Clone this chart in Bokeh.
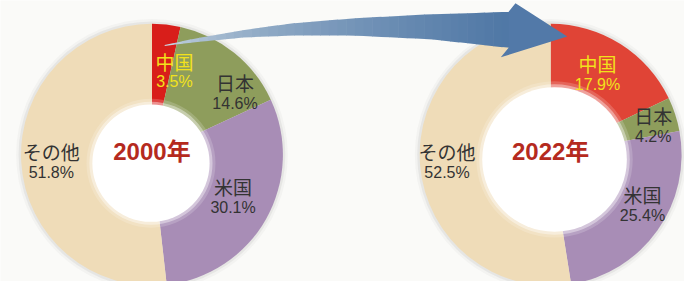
import math
from bokeh.plotting import figure
from bokeh.models import Range1d
from bokeh.core.properties import value
from bokeh.embed import file_html
from bokeh.resources import INLINE

# ---- data ----
categories = ["中国", "日本", "米国", "その他"]
share_2000 = [3.5, 14.6, 30.1, 51.8]
share_2022 = [17.9, 4.2, 25.4, 52.5]
years = ["2000年", "2022年"]

colors_2000 = ["#d81e1a", "#8e9d5c", "#a88db6", "#efdcb8"]
colors_2022 = ["#e04436", "#8e9d5c", "#a88db6", "#efdcb8"]
label_colors = ["#f2e21c", "#333333", "#333333", "#333333"]

H = 297  # reference height, used to flip decoration coords to y-up

p = figure(width=684, height=281, output_backend="svg", toolbar_location=None,
           x_range=Range1d(0, 700), y_range=Range1d(0, 297), min_border=0)
p.axis.visible = False
p.grid.visible = False
p.outline_line_color = None
p.background_fill_color = "#fafaf8"
p.border_fill_color = "#fafaf8"

FONT = value("Noto Sans CJK JP")
NUMFONT = value("Liberation Sans")


def donut(cx, cy, r_out, hole, shares, colors, year, label_pos):
    # soft shadow
    for k, a in [(5, 0.06), (2.5, 0.12)]:
        p.circle(x=[cx], y=[cy], radius=r_out + k, fill_color="#8a8a8a",
                 fill_alpha=a, line_color=None)
    cum = 0.0
    starts, ends = [], []
    for s in shares:
        c0, c1 = cum, cum + s
        cum = c1
        starts.append(math.pi / 2 - 2 * math.pi * c1 / 100.0)
        ends.append(math.pi / 2 - 2 * math.pi * c0 / 100.0)
    p.wedge(x=[cx] * len(shares), y=[cy] * len(shares), radius=r_out,
            start_angle=starts, end_angle=ends, direction="anticlock",
            fill_color=colors, line_color=None)
    hx, hy, hr = hole
    for k, a in [(6, 0.18), (3, 0.4)]:
        p.circle(x=[hx], y=[hy], radius=hr + k, fill_color="#ffffff",
                 fill_alpha=a, line_color=None)
    p.circle(x=[hx], y=[hy], radius=hr, fill_color="#ffffff", line_color=None)
    # labels
    for cat, s, col, (lx, ly) in zip(categories, shares, label_colors, label_pos):
        p.text(x=[lx], y=[ly], text=[cat], text_font=FONT, text_font_size="19px",
               text_color=col, text_align="center", text_baseline="middle")
        p.text(x=[lx], y=[ly - 22], text=[f"{s}%"], text_font=NUMFONT,
               text_font_size="16px", text_color=col, text_align="center",
               text_baseline="middle")
    p.text(x=[cx], y=[cy + 3], text=[year],
           text_font=value("Liberation Sans, Noto Sans CJK JP"),
           text_font_size="24px", text_font_style="bold", text_color="#b52a1e",
           text_align="center", text_baseline="middle")


# left donut (coordinates in y-up reference pixel space)
donut(155, H - 163, 134, (154, H - 172, 60), share_2000, colors_2000, years[0],
      [(178, H - 64), (240, H - 87), (238, H - 197), (52, H - 160)])
# right donut
donut(563, H - 163, 134, (567, H - 168, 74), share_2022, colors_2022, years[1],
      [(611, H - 67), (668, H - 122), (657, H - 205), (457, H - 160)])

# ---- decorative arrow (shaft with simple gradient, then head) ----
top_pts = [(168, 47), (200, 40), (250, 31), (300, 24), (360, 19), (430, 15), (520, 12)]
bot_pts = [(168, 48), (200, 44), (250, 39), (300, 37), (360, 37), (440, 41), (520, 50)]


def interp(pts, x):
    for (xa, ya), (xb, yb) in zip(pts[:-1], pts[1:]):
        if xa <= x <= xb:
            t = (x - xa) / (xb - xa)
            return ya + t * (yb - ya)
    return pts[-1][1]


c_start = (200, 214, 226)
c_end = (80, 120, 166)
N = 40
x0, x1 = 168, 522
for i in range(N):
    xa = x0 + (x1 - x0) * i / N
    xb = x0 + (x1 - x0) * (i + 1) / N + 0.6
    t = (i / (N - 1)) ** 0.6
    col = "#%02x%02x%02x" % tuple(int(c_start[j] + t * (c_end[j] - c_start[j])) for j in range(3))
    xs = [xa, xb, xb, xa]
    ys = [H - interp(top_pts, xa), H - interp(top_pts, xb),
          H - interp(bot_pts, xb), H - interp(bot_pts, xa)]
    p.patch(x=xs, y=ys, fill_color=col, line_color=None)

head = [(520, 12), (527, 3), (580, 38), (512, 60), (520, 50)]
p.patch(x=[q[0] for q in head], y=[H - q[1] for q in head], fill_color="#5279a8",
        line_color=None)

open("out.html", "w").write(file_html(p, INLINE))
